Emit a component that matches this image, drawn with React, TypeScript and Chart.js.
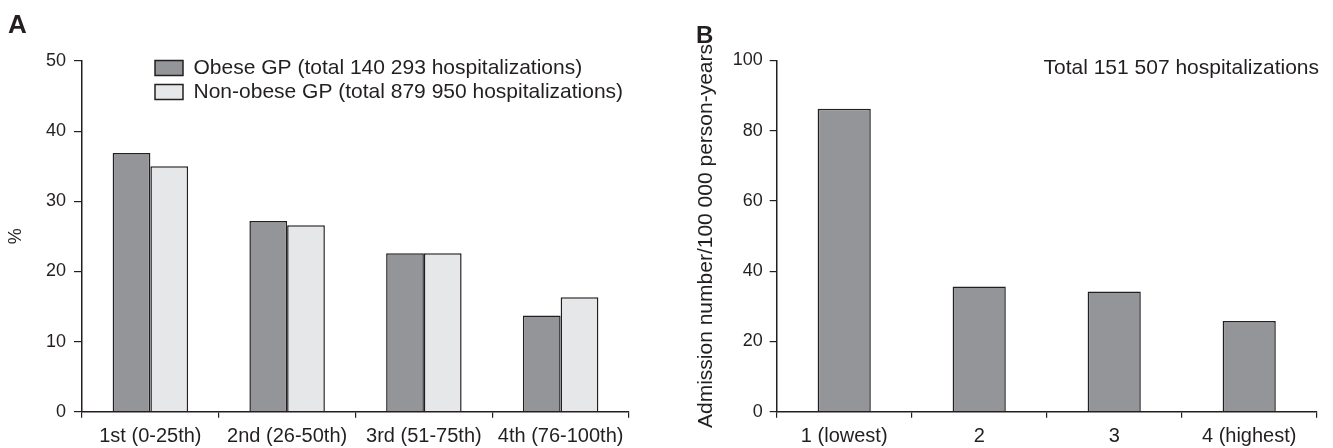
import React, { useEffect, useRef } from "react";
import { Chart, registerables } from "chart.js";

Chart.register(...registerables);

// ---------- Panel A data ----------
const quartilesA = ["1st (0-25th)", "2nd (26-50th)", "3rd (51-75th)", "4th (76-100th)"];
const obeseGP = [36.9, 27.2, 22.6, 13.7];
const nonObeseGP = [35.0, 26.6, 22.6, 16.3];
const obeseLabel = "Obese GP (total 140 293 hospitalizations)";
const nonObeseLabel = "Non-obese GP (total 879 950 hospitalizations)";
const yTitleA = "%";
const yMaxA = 50;
const yStepA = 10;

// ---------- Panel B data ----------
const quartilesB = ["1 (lowest)", "2", "3", "4 (highest)"];
const admissions = [86.2, 35.6, 34.2, 25.8];
const yTitleB = "Admission number/100 000 person-years";
const totalB = "Total 151 507 hospitalizations";
const yMaxB = 100;
const yStepB = 20;

const INK = "#231f20";
const DARK = "#939598";
const LIGHT = "#e6e7e8";
const FONT = "'Liberation Sans', Arial, Helvetica, sans-serif";

type TextItem = { text: string; x: number; y: number; size: number; bold?: boolean; align?: CanvasTextAlign };

const textPlugin = (id: string, items: TextItem[]) => ({
  id,
  afterDraw(chart: any) {
    const ctx = chart.ctx as CanvasRenderingContext2D;
    ctx.save();
    ctx.fillStyle = INK;
    ctx.textBaseline = "alphabetic";
    items.forEach((it) => {
      ctx.font = `${it.bold ? "bold " : ""}${it.size}px ${FONT}`;
      ctx.textAlign = it.align || "left";
      ctx.fillText(it.text, it.x, it.y);
    });
    ctx.restore();
  },
});

const legendPlacer = {
  id: "legendPlacer",
  afterLayout(chart: any) {
    if (chart.legend) {
      chart.legend.left = 152;
      chart.legend.top = 54.5;
    }
  },
};

function axisCommon(tickLength: number, pad: number, size: number) {
  return {
    grid: {
      display: true,
      drawOnChartArea: false,
      drawTicks: true,
      tickLength,
      color: INK,
      lineWidth: 1.2,
    },
    border: { display: true, color: INK, width: 1.5 },
    ticks: { color: INK, padding: pad, font: { family: FONT, size } },
  };
}

export default function App() {
  const refA = useRef<HTMLCanvasElement | null>(null);
  const refB = useRef<HTMLCanvasElement | null>(null);

  useEffect(() => {
    const a = axisCommon(6, 7, 20);
    const ay = axisCommon(8, 8, 18);
    const chartA = new Chart(refA.current as HTMLCanvasElement, {
      type: "bar",
      data: {
        labels: quartilesA,
        datasets: [
          {
            label: obeseLabel,
            data: obeseGP,
            backgroundColor: DARK,
            borderColor: INK,
            borderWidth: 1.5,
            barPercentage: 1,
            categoryPercentage: 0.552,
          },
          {
            label: nonObeseLabel,
            data: nonObeseGP,
            backgroundColor: LIGHT,
            borderColor: INK,
            borderWidth: 1.5,
            barPercentage: 1,
            categoryPercentage: 0.552,
          },
        ],
      },
      options: {
        animation: false,
        responsive: false,
        maintainAspectRatio: false,
        layout: { padding: { left: 0, right: 31, top: 61, bottom: 0 } },
        plugins: {
          legend: {
            display: true,
            position: "chartArea",
            align: "start",
            labels: {
              boxWidth: 28,
              boxHeight: 15,
              padding: 3,
              color: INK,
              font: { family: FONT, size: 21 },
            },
          },
          tooltip: { enabled: false },
        },
        scales: {
          x: {
            ...a,
            grid: { ...a.grid, offset: true },
            afterFit: (s: any) => {
              s.height = 36.3;
            },
          },
          y: {
            ...ay,
            min: 0,
            max: yMaxA,
            ticks: { ...ay.ticks, stepSize: yStepA },
            title: {
              display: true,
              text: yTitleA,
              color: INK,
              font: { family: FONT, size: 18 },
              padding: { top: 5, bottom: 0 },
            },
            afterFit: (s: any) => {
              s.width = 82;
            },
          },
        },
      } as any,
      plugins: [
        legendPlacer,
        textPlugin("panelA", [{ text: "A", x: 8, y: 33.3, size: 26, bold: true }]),
      ],
    });

    const b = axisCommon(6, 7, 20);
    const by = axisCommon(7, 7, 18);
    const chartB = new Chart(refB.current as HTMLCanvasElement, {
      type: "bar",
      data: {
        labels: quartilesB,
        datasets: [
          {
            label: totalB,
            data: admissions,
            backgroundColor: DARK,
            borderColor: INK,
            borderWidth: 1.5,
            barPercentage: 1,
            categoryPercentage: 0.394,
          },
        ],
      },
      options: {
        animation: false,
        responsive: false,
        maintainAspectRatio: false,
        layout: { padding: { left: 0, right: 16.3, top: 60.3, bottom: 0 } },
        plugins: {
          legend: { display: false },
          tooltip: { enabled: false },
        },
        scales: {
          x: {
            ...b,
            grid: { ...b.grid, offset: true },
            afterFit: (s: any) => {
              s.height = 36.3;
            },
          },
          y: {
            ...by,
            min: 0,
            max: yMaxB,
            ticks: { ...by.ticks, stepSize: yStepB },
            title: {
              display: true,
              text: yTitleB,
              color: INK,
              font: { family: FONT, size: 21 },
              padding: { top: 33.4, bottom: 0 },
            },
            afterFit: (s: any) => {
              s.width = 116.7;
            },
          },
        },
      } as any,
      plugins: [
        textPlugin("panelB", [
          { text: "B", x: 36, y: 43, size: 24, bold: true },
          { text: totalB, x: 659, y: 74, size: 21, align: "right" },
        ]),
      ],
    });

    return () => {
      chartA.destroy();
      chartB.destroy();
    };
  }, []);

  return (
    <div
      style={{
        position: "fixed",
        left: 0,
        top: 0,
        width: 1333,
        height: 448,
        background: "#ffffff",
        overflow: "hidden",
      }}
    >
      <canvas
        ref={refA}
        width={660}
        height={448}
        style={{ position: "absolute", left: 0, top: 0, width: 660, height: 448, display: "block" }}
      />
      <canvas
        ref={refB}
        width={673}
        height={448}
        style={{ position: "absolute", left: 660, top: 0, width: 673, height: 448, display: "block" }}
      />
    </div>
  );
}
